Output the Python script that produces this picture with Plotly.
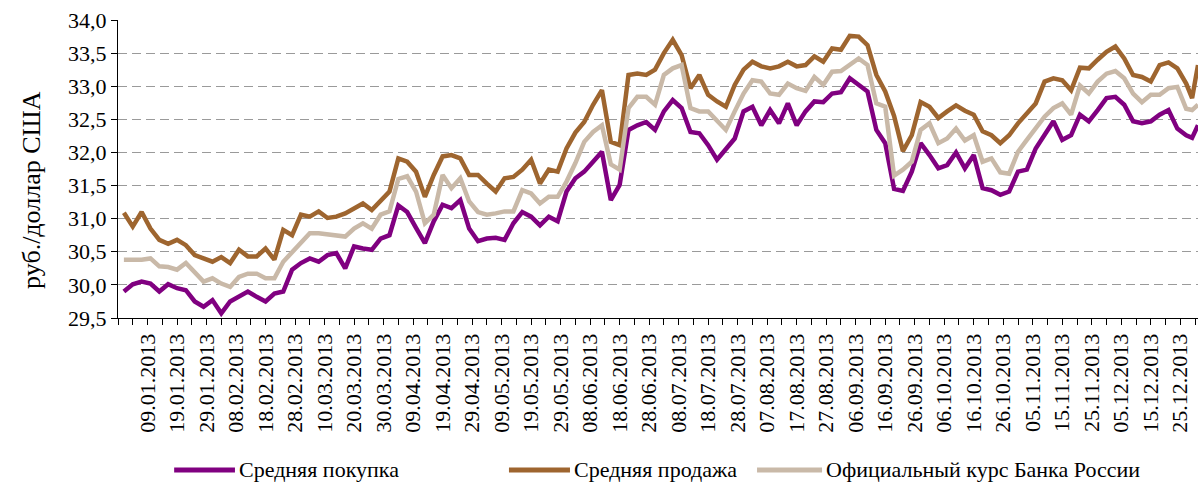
import plotly.graph_objects as go
import pandas as pd

# day offsets from 01.01.2013 at which values were read
days = list(range(0, 361, 3)) + [362, 364]

buy = [
    29.90, 30.01, 30.05, 30.02, 29.90, 30.01, 29.95, 29.92, 29.75, 29.67,
    29.77, 29.57, 29.75, 29.82, 29.90, 29.82, 29.75, 29.87, 29.90, 30.23,
    30.33, 30.40, 30.35, 30.45, 30.48, 30.25, 30.58, 30.55, 30.53, 30.70,
    30.75, 31.20, 31.10, 30.86, 30.63, 30.96, 31.21, 31.16, 31.28, 30.85,
    30.66, 30.70, 30.71, 30.68, 30.93, 31.10, 31.03, 30.90, 31.03, 30.96,
    31.41, 31.61, 31.71, 31.86, 32.01, 31.28, 31.51, 32.34, 32.41, 32.46,
    32.34, 32.62, 32.79, 32.67, 32.31, 32.29, 32.11, 31.89, 32.04, 32.21,
    32.62, 32.69, 32.41, 32.64, 32.44, 32.74, 32.41, 32.62, 32.77, 32.76,
    32.89, 32.91, 33.12, 33.02, 32.92, 32.34, 32.14, 31.45, 31.42, 31.71,
    32.14, 31.96, 31.76, 31.81, 32.00, 31.76, 31.96, 31.46, 31.43, 31.36,
    31.41, 31.71, 31.74, 32.06, 32.26, 32.47, 32.19, 32.26, 32.57, 32.47,
    32.64, 32.82, 32.84, 32.72, 32.47, 32.44, 32.47, 32.57, 32.64, 32.36,
    32.26, 32.22, 32.41,
]

sell = [
    31.09, 30.88, 31.10, 30.85, 30.68, 30.62, 30.68, 30.60, 30.45, 30.40,
    30.35, 30.42, 30.33, 30.53, 30.43, 30.43, 30.55, 30.38, 30.83, 30.75,
    31.06, 31.03, 31.11, 31.01, 31.03, 31.08, 31.16, 31.23, 31.13, 31.28,
    31.41, 31.91, 31.86, 31.71, 31.33, 31.66, 31.94, 31.96, 31.91, 31.66,
    31.66, 31.53, 31.41, 31.61, 31.63, 31.74, 31.89, 31.53, 31.74, 31.71,
    32.06, 32.30, 32.46, 32.72, 32.94, 32.16, 32.11, 33.17, 33.19, 33.17,
    33.25, 33.50, 33.70, 33.47, 32.97, 33.17, 32.87, 32.77, 32.69, 33.02,
    33.25, 33.37, 33.30, 33.27, 33.30, 33.37, 33.30, 33.32, 33.45, 33.37,
    33.57, 33.55, 33.76, 33.75, 33.62, 33.17, 32.92, 32.55, 32.02, 32.26,
    32.76, 32.69, 32.52, 32.62, 32.71, 32.63, 32.57, 32.32, 32.26, 32.14,
    32.26, 32.44, 32.59, 32.74, 33.07, 33.12, 33.09, 32.94, 33.28, 33.27,
    33.40, 33.52, 33.60, 33.42, 33.17, 33.14, 33.07, 33.32, 33.36, 33.27,
    33.04, 32.82, 33.32,
]

official = [
    30.38, 30.38, 30.38, 30.40, 30.28, 30.27, 30.23, 30.33, 30.20, 30.05,
    30.10, 30.02, 29.97, 30.12, 30.17, 30.17, 30.10, 30.10, 30.35, 30.50,
    30.63, 30.78, 30.78, 30.76, 30.75, 30.73, 30.85, 30.93, 30.85, 31.06,
    31.11, 31.60, 31.64, 31.41, 30.93, 31.06, 31.66, 31.46, 31.61, 31.26,
    31.10, 31.06, 31.08, 31.11, 31.11, 31.43, 31.38, 31.23, 31.33, 31.33,
    31.56, 31.84, 32.16, 32.31, 32.41, 31.82, 31.74, 32.67, 32.84, 32.84,
    32.72, 33.17, 33.27, 33.32, 32.67, 32.62, 32.62, 32.47, 32.34, 32.62,
    32.89, 33.09, 33.07, 32.89, 32.87, 33.04, 32.97, 32.93, 33.14, 33.02,
    33.22, 33.23, 33.32, 33.42, 33.32, 32.74, 32.69, 31.65, 31.74, 31.86,
    32.34, 32.44, 32.14, 32.21, 32.36, 32.18, 32.26, 31.86, 31.91, 31.70,
    31.68, 32.01, 32.19, 32.36, 32.54, 32.67, 32.74, 32.57, 33.01, 32.89,
    33.07, 33.19, 33.23, 33.12, 32.89, 32.76, 32.87, 32.87, 32.97, 32.99,
    32.66, 32.64, 32.72,
]

series_names = ["Средняя покупка", "Средняя продажа", "Официальный курс Банка России"]
y_title = "руб./доллар США"

dates = pd.Timestamp("2013-01-01") + pd.to_timedelta(days, unit="D")
tick_dates = pd.date_range("2013-01-09", "2013-12-25", freq="10D")

colors = ["#800080", "#9E652F", "#C9B9A8"]
FONT = "Liberation Serif"

fig = go.Figure()
for name, vals, col in zip(series_names, [buy, sell, official], colors):
    fig.add_trace(go.Scatter(x=dates, y=vals, mode="lines", name=name,
                             line=dict(color=col, width=4.5), showlegend=False))

# legend drawn manually (paper coordinates of the plot area)
leg_y = -0.51
leg_lines = [(0.0520, 0.1083), (0.3620, 0.4185), (0.5917, 0.6519)]
shapes = []
annotations = []
for (x0, x1), name, col in zip(leg_lines, series_names, colors):
    shapes.append(dict(type="line", xref="paper", yref="paper", x0=x0, x1=x1,
                       y0=leg_y, y1=leg_y, line=dict(color=col, width=5)))
    annotations.append(dict(text=name, xref="paper", yref="paper", x=x1 + 0.002, y=leg_y,
                            xanchor="left", yanchor="middle", showarrow=False,
                            font=dict(size=22, family=FONT, color="black")))

annotations.append(dict(text=y_title, xref="paper", yref="paper", x=-0.0796, y=0.43,
                        xanchor="center", yanchor="middle", textangle=-90, showarrow=False,
                        font=dict(size=26, family=FONT, color="black")))

fig.update_layout(
    width=1200, height=487,
    margin=dict(l=118, r=2, t=20, b=169),
    plot_bgcolor="white", paper_bgcolor="white",
    separators=", ",
    font=dict(family=FONT, size=22, color="black"),
    showlegend=False,
    shapes=shapes,
    annotations=annotations,
    xaxis=dict(
        type="date",
        range=["2012-12-30", "2013-12-31"],
        tickmode="array", tickvals=list(tick_dates),
        ticktext=[d.strftime("%d.%m.%Y") for d in tick_dates],
        tickangle=-90,
        ticks="outside", ticklen=6, tickcolor="black",
        minor=dict(ticks="outside", ticklen=6, tickcolor="black",
                   tick0="2012-12-30", dtick=5 * 86400000),
        showline=True, linecolor="black", linewidth=1,
        showgrid=False, zeroline=False,
        tickfont=dict(size=22, family=FONT, color="black"),
    ),
    yaxis=dict(
        range=[29.5, 34.0], tick0=29.5, dtick=0.5, tickformat=".1f",
        ticks="outside", ticklen=6, tickcolor="black",
        showline=True, linecolor="black", linewidth=1,
        showgrid=True, gridcolor="#9a9a9a", gridwidth=1, griddash="9px,5px",
        zeroline=False,
        tickfont=dict(size=22, family=FONT, color="black"),
    ),
)

fig.write_html("out.html",
               config={"displayModeBar": False},
               post_script="document.body.style.margin='0px';document.body.style.overflow='hidden';")
